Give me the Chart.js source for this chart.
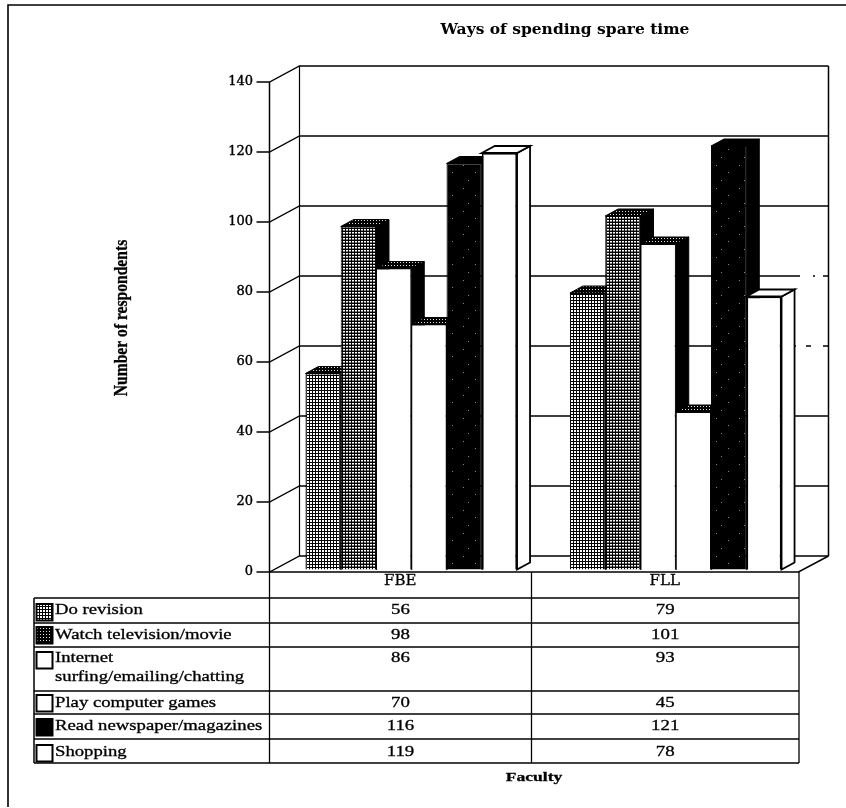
<!DOCTYPE html>
<html>
<head>
<meta charset="utf-8">
<style>html,body{margin:0;padding:0;background:#fff}canvas{display:block}</style>
<script src="https://cdn.jsdelivr.net/npm/chart.js@4"></script>
</head>
<body>
<canvas id="c" width="846" height="808"></canvas>
<script>
const categories = ['FBE', 'FLL'];
const seriesNames = ['Do revision', 'Watch television/movie', 'Internet surfing/emailing/chatting', 'Play computer games', 'Read newspaper/magazines', 'Shopping'];
const doRevision = [56, 79];
const watchTv = [98, 101];
const internet = [86, 93];
const computerGames = [70, 45];
const readNews = [116, 121];
const shopping = [119, 78];
const seriesValues = [doRevision, watchTv, internet, computerGames, readNews, shopping];
const yTicksMax = 140, yTickStep = 20;
const chartTitle = 'Ways of spending spare time';
const xTitle = 'Faculty', yTitle = 'Number of respondents';

// table layout (style only)
const tableCols = [34, 269.5, 531.5, 799];
const rowLines = [598, 623, 647, 691, 714, 739, 763];
const rowTextY = [[610], [635], [658, 677], [703], [726], [752]];
const rowLabels = [['Do revision'], ['Watch television/movie'], ['Internet', 'surfing/emailing/chatting'], ['Play computer games'], ['Read newspaper/magazines'], ['Shopping']];
const swatchY = [604, 627, 652, 695, 719, 745];
// breaks in the back-wall gridlines, as printed: [gridline value, from x, to x]
const gridBreaks = [[80, 800, 813], [80, 815, 823], [60, 796, 806], [60, 811, 823]];

const SERIF = '"Liberation Serif", serif';

function pattern(cell, paint) {
  const c = document.createElement('canvas');
  c.width = c.height = cell;
  const g = c.getContext('2d');
  paint(g, cell);
  return document.createElement('canvas').getContext('2d').createPattern(c, 'repeat');
}
function grid(ink, white, size) {
  return pattern(3, (g) => { g.fillStyle = ink; g.fillRect(0, 0, 3, 3); g.fillStyle = white; g.fillRect(1, 1, size, size); });
}
const gridLight = grid('#000', '#fff', 2);
const gridMid = pattern(3, (g) => {
  g.fillStyle = '#000'; g.fillRect(0, 0, 3, 3);
  g.fillStyle = '#fff'; g.fillRect(1, 1, 2, 1);
  g.fillStyle = '#888'; g.fillRect(1, 2, 2, 1);
});
const gridDark = grid('#000', '#ddd', 1);
const speckle = pattern(23, (g) => {
  g.fillStyle = '#000'; g.fillRect(0, 0, 23, 23);
  g.fillStyle = '#888'; g.fillRect(3, 4, 1, 1); g.fillRect(15, 11, 1, 1); g.fillRect(8, 19, 1, 1);
});
const faces = [
  { front: gridLight, top: gridDark, side: gridDark },
  { front: gridMid, top: gridDark, side: '#000' },
  { front: '#fff', top: gridDark, side: '#000' },
  { front: '#fff', top: gridDark, side: '#000' },
  { front: speckle, top: '#000', side: '#000' },
  { front: '#fff', top: '#fff', side: '#fff' }
];
const swatchFill = [gridLight, gridDark, '#fff', '#fff', '#000', '#fff'];

const DEPTH_X = 13, DEPTH_Y = 7;
const FRONT = { dx: -9.5, dy: 2.5 }, BACK = { dx: 20.5, dy: -13.5 };

function line(ctx, pts, w) {
  ctx.lineWidth = w || 1.3;
  ctx.strokeStyle = '#000';
  ctx.beginPath();
  pts.forEach((p, i) => i ? ctx.lineTo(p[0], p[1]) : ctx.moveTo(p[0], p[1]));
  ctx.stroke();
}
function poly(ctx, pts, fill, w) {
  ctx.beginPath();
  pts.forEach((p, i) => i ? ctx.lineTo(p[0], p[1]) : ctx.moveTo(p[0], p[1]));
  ctx.closePath();
  ctx.fillStyle = fill; ctx.fill();
  ctx.lineWidth = w; ctx.strokeStyle = '#000'; ctx.stroke();
}
function wideText(ctx, text, x, y, font, stretch, align) {
  ctx.save();
  ctx.font = font; ctx.fillStyle = '#000'; ctx.strokeStyle = '#000'; ctx.lineWidth = 0.3;
  ctx.textBaseline = 'middle'; ctx.textAlign = align || 'left';
  ctx.translate(x, y); ctx.scale(stretch, 1);
  ctx.strokeText(text, 0, 0);
  ctx.fillText(text, 0, 0);
  ctx.restore();
}

const scenePlugin = {
  id: 'scene',
  afterLayout(chart) {
    chart.titleBlock.left = 365;
    chart.titleBlock.right = 765;
  },
  beforeDatasetsDraw(chart) {
    const ctx = chart.ctx, x = chart.scales.x, y = chart.scales.y;
    const fl = x.left + FRONT.dx, fr = x.right + FRONT.dx, bl = x.left + BACK.dx, br = x.right + BACK.dx;
    const fy = (v) => y.getPixelForValue(v) + FRONT.dy, by = (v) => y.getPixelForValue(v) + BACK.dy;
    ctx.save();
    for (let v = 0; v <= yTicksMax; v += yTickStep) {
      line(ctx, [[fl - 13, fy(v)], [fl, fy(v)], [bl, by(v)], [br, by(v)]]);
    }
    ctx.fillStyle = '#fff';
    gridBreaks.forEach(([v, a, b]) => ctx.fillRect(a, by(v) - 2, b - a, 4));
    line(ctx, [[fl, fy(yTicksMax)], [fl, fy(0)]], 1.5);
    line(ctx, [[bl, by(yTicksMax)], [bl, by(0)]], 1.2);
    line(ctx, [[br, by(yTicksMax)], [br, by(0)]], 1.5);
    line(ctx, [[fl, fy(0)], [fr, fy(0)], [br, by(0)]], 1.5);
    // painter's order: left bars first, so each bar hides the depth of its left neighbour
    seriesNames.forEach((_, i) => {
      const meta = chart.getDatasetMeta(i), f = faces[i];
      meta.data.forEach((b) => {
        const x1 = b.x - b.width / 2, x2 = b.x + b.width / 2, t = b.y, base = b.base;
        const w = i === 5 ? 1.8 : 1;
        poly(ctx, [[x2, t], [x2 + DEPTH_X, t - DEPTH_Y], [x2 + DEPTH_X, base - DEPTH_Y], [x2, base]], f.side, w);
        poly(ctx, [[x1, t], [x1 + DEPTH_X, t - DEPTH_Y], [x2 + DEPTH_X, t - DEPTH_Y], [x2, t]], f.top, w);
      });
      meta.controller.draw();
    });
    ctx.restore();
    return false;
  },
  afterDraw(chart) {
    const ctx = chart.ctx, y = chart.scales.y;
    ctx.save();
    // page frame
    line(ctx, [[846, 5], [8, 5], [8, 807]], 1.6);
    // table rules
    const [c0, c1, c2, c3] = tableCols;
    const bottom = rowLines[rowLines.length - 1];
    const floor = y.getPixelForValue(0) + FRONT.dy;
    line(ctx, [[c0, rowLines[0]], [c0, bottom]], 1.5);
    [c1, c2, c3].forEach((c) => line(ctx, [[c, floor], [c, bottom]], 1.3));
    rowLines.forEach((r) => line(ctx, [[c0, r], [c3, r]], 1.3));
    // rows
    rowLabels.forEach((lines, i) => {
      lines.forEach((t, k) => wideText(ctx, t, 55, rowTextY[i][k], '14.5px ' + SERIF, 1.29));
      categories.forEach((_, j) => {
        wideText(ctx, String(seriesValues[i][j]), (tableCols[j + 1] + tableCols[j + 2]) / 2, rowTextY[i][0], '14.5px ' + SERIF, 1.3, 'center');
      });
      ctx.fillStyle = swatchFill[i];
      ctx.fillRect(36.5, swatchY[i], 16, 16.5);
      ctx.lineWidth = 2; ctx.strokeStyle = '#000';
      ctx.strokeRect(36.5, swatchY[i], 16, 16.5);
    });
    // axis titles
    wideText(ctx, xTitle, 534, 778, 'bold 13.5px ' + SERIF, 1.3, 'center');
    ctx.translate(122, 318);
    ctx.rotate(-Math.PI / 2);
    wideText(ctx, yTitle, 0, 0, 'bold 19px ' + SERIF, 0.82, 'center');
    ctx.restore();
  }
};

new Chart(document.getElementById('c'), {
  type: 'bar',
  data: {
    labels: categories,
    datasets: seriesNames.map((name, i) => ({
      label: name,
      data: seriesValues[i],
      backgroundColor: faces[i].front,
      borderColor: '#000',
      borderWidth: i === 5 ? 1.8 : 1,
      barPercentage: 1,
      categoryPercentage: 0.8
    }))
  },
  options: {
    responsive: false,
    animation: false,
    devicePixelRatio: 1,
    layout: { padding: { left: 0, right: 38, top: 0, bottom: 0 } },
    plugins: {
      legend: { display: false },
      tooltip: { enabled: false },
      title: {
        display: true,
        text: chartTitle,
        color: '#000',
        font: { family: 'DejaVu Serif', size: 15.5, weight: 'bold', lineHeight: 1.2 },
        padding: { top: 20.7, bottom: 40.2 }
      }
    },
    scales: {
      x: {
        grid: { display: false, drawTicks: false },
        border: { display: false },
        ticks: { color: '#000', padding: 3, labelOffset: -11, textStrokeColor: '#000', textStrokeWidth: 0.3, font: { family: 'DejaVu Serif', size: 15 } },
        afterFit(s) { s.height = 238.5; }
      },
      y: {
        min: 0,
        max: yTicksMax,
        grid: { display: false, drawTicks: false },
        border: { display: false },
        ticks: { stepSize: yTickStep, color: '#000', padding: 26, labelOffset: 2, textStrokeColor: '#000', textStrokeWidth: 0.4, font: { family: 'DejaVu Serif', size: 13 } },
        afterFit(s) { s.width = 279; }
      }
    }
  },
  plugins: [scenePlugin]
});
</script>
</body>
</html>
